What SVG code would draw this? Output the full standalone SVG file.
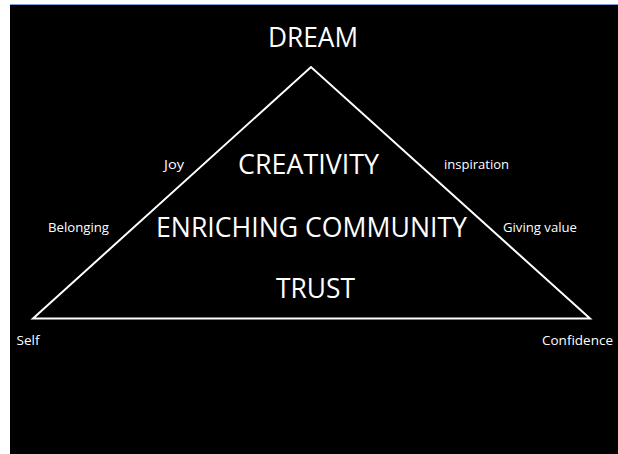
<svg xmlns="http://www.w3.org/2000/svg" width="618" height="454" viewBox="0 0 618 454">
<style>
.t{fill:#fff;font-family:"Open Sans","Noto Sans",sans-serif}
.big{font-size:27px}
.sm{font-size:13.3px}
</style>
<rect x="0" y="0" width="618" height="454" fill="#fff"/>
<rect x="10" y="4" width="608" height="450" fill="#000"/>
<line x1="10" y1="4.5" x2="618" y2="4.5" stroke="#7a9fd6" stroke-width="1"/>
<g id="connectors">
<polygon points="33,318.5 311,67 590,318.5" fill="none" stroke="#fff" stroke-width="2"/>
</g>
<g id="dream"><text class="t big" x="268" y="47" textLength="90" lengthAdjust="spacingAndGlyphs">DREAM</text></g>
<g id="creativity"><text class="t big" x="238" y="174" textLength="141" lengthAdjust="spacingAndGlyphs">CREATIVITY</text></g>
<g id="enriching"><text class="t big" x="156" y="237" textLength="311" lengthAdjust="spacingAndGlyphs">ENRICHING COMMUNITY</text></g>
<g id="trust"><text class="t big" x="276" y="298" textLength="79" lengthAdjust="spacingAndGlyphs">TRUST</text></g>
<g id="joy"><text class="t sm" x="164" y="169" textLength="20" lengthAdjust="spacingAndGlyphs">Joy</text></g>
<g id="inspiration"><text class="t sm" x="444" y="169" textLength="65" lengthAdjust="spacingAndGlyphs">inspiration</text></g>
<g id="belonging"><text class="t sm" x="48" y="232" textLength="61" lengthAdjust="spacingAndGlyphs">Belonging</text></g>
<g id="giving"><text class="t sm" x="503" y="232" textLength="74" lengthAdjust="spacingAndGlyphs">Giving value</text></g>
<g id="self"><text class="t sm" x="16.5" y="345" textLength="23" lengthAdjust="spacingAndGlyphs">Self</text></g>
<g id="confidence"><text class="t sm" x="542" y="345" textLength="71" lengthAdjust="spacingAndGlyphs">Confidence</text></g>
</svg>
